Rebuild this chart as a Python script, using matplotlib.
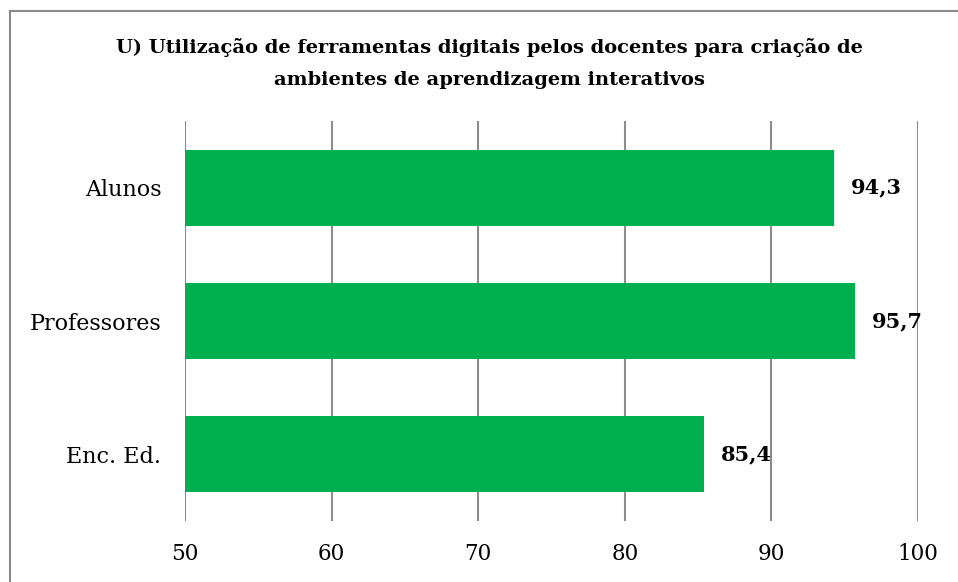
import matplotlib.pyplot as plt
from matplotlib.lines import Line2D

categorias = ['Alunos', 'Professores', 'Enc. Ed.']
valores = [94.3, 95.7, 85.4]
rotulos = ['94,3', '95,7', '85,4']
ticks_x = [50, 60, 70, 80, 90, 100]

plt.rcParams['font.family'] = ['DejaVu Serif']

fig = plt.figure(figsize=(9.58, 5.82), dpi=100)
ax = fig.add_axes([185 / 958, 1 - 521 / 582, 733 / 958, 400 / 582])

pos = list(range(len(categorias)))
ax.barh(pos, [v - 50 for v in valores], left=50, height=0.57, color='#00B050', zorder=2)

for p, v, r in zip(pos, valores, rotulos):
    ax.text(v + 1.15, p, r, va='center', ha='left', fontsize=15, fontweight='bold', zorder=3)

ax.set_xlim(50, 100)
ax.set_ylim(2.5, -0.5)
ax.set_xticks(ticks_x)
ax.set_xticklabels([str(t) for t in ticks_x], fontsize=15.5)
ax.set_yticks(pos)
ax.set_yticklabels(categorias, fontsize=16)
ax.tick_params(axis='both', length=0)
ax.tick_params(axis='x', pad=16)
ax.tick_params(axis='y', pad=17)
ax.grid(axis='x', color='#8c8c8c', linewidth=1.5, zorder=1)
for s in ax.spines.values():
    s.set_visible(False)

fig.text(489.5 / 958, 1 - 63.5 / 582,
         'U) Utilização de ferramentas digitais pelos docentes para criação de\nambientes de aprendizagem interativos',
         ha='center', va='center', fontsize=14, fontweight='bold', linespacing=1.95)

# moldura do gráfico (topo e esquerda)
fig.add_artist(Line2D([9.5 / 958, 9.5 / 958], [0, 1 - 11 / 582], transform=fig.transFigure, color='#898989', lw=1.5))
fig.add_artist(Line2D([9.5 / 958, 1], [1 - 11 / 582, 1 - 11 / 582], transform=fig.transFigure, color='#898989', lw=1.5))

fig.savefig('out.png', dpi=100)
